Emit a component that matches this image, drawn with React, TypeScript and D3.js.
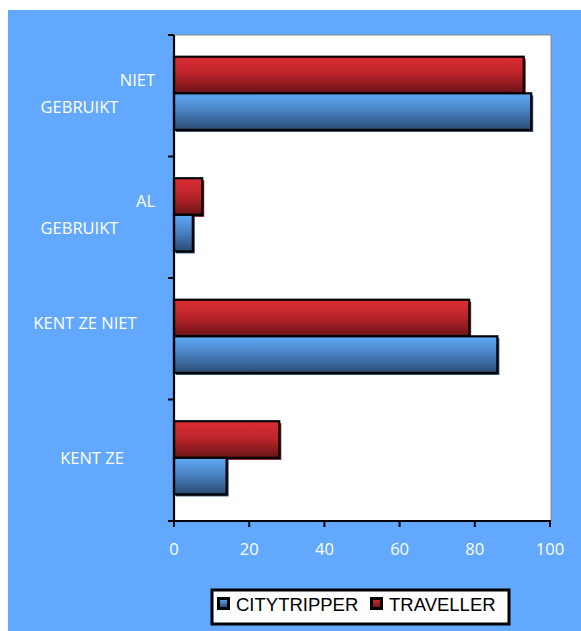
import React from "react";
import * as d3 from "d3";

const categories = ["NIET GEBRUIKT", "AL GEBRUIKT", "KENT ZE NIET", "KENT ZE"];
const categoryLines = [["NIET", "GEBRUIKT"], ["AL", "GEBRUIKT"], ["KENT ZE NIET"], ["KENT ZE"]];
const series = ["TRAVELLER", "CITYTRIPPER"];
const traveller = [93, 7.5, 78.5, 28];
const citytripper = [95, 5, 86, 14];
const xTicks = [0, 20, 40, 60, 80, 100];
const legendItems = ["CITYTRIPPER", "TRAVELLER"];

const W = 581, H = 631;
const plot = { left: 174, right: 550, top: 35, bottom: 521 };

export default function App() {
  const x = d3.scaleLinear().domain([0, 100]).range([plot.left, plot.right]);
  const y0 = d3.scaleBand<string>().domain(categories).range([plot.top, plot.bottom]);
  const y1 = d3.scaleBand<string>().domain(series).range([0, y0.bandwidth()]).paddingOuter(0.66).align(0.45);
  const values: Record<string, number[]> = { TRAVELLER: traveller, CITYTRIPPER: citytripper };
  const fills: Record<string, string> = { TRAVELLER: "url(#gRed)", CITYTRIPPER: "url(#gBlue)" };
  const shadows: Record<string, string> = { TRAVELLER: "#7a1418", CITYTRIPPER: "#2c4d78" };
  const labelFont = "'Open Sans', sans-serif";
  const fs = 16.5;
  const yTickPos = [...categories.map((c) => y0(c)!), plot.bottom];

  return (
    <svg width={W} height={H} style={{ position: "absolute", left: 0, top: 0 }}>
      <defs>
        <linearGradient id="gRed" x1="0" y1="0" x2="0" y2="1">
          <stop offset="0" stopColor="#dc2e34" />
          <stop offset="0.45" stopColor="#bd252b" />
          <stop offset="1" stopColor="#6a1317" />
        </linearGradient>
        <linearGradient id="gBlue" x1="0" y1="0" x2="0" y2="1">
          <stop offset="0" stopColor="#5fa9f6" />
          <stop offset="0.45" stopColor="#4a84c6" />
          <stop offset="1" stopColor="#2a4a72" />
        </linearGradient>
        <linearGradient id="lRed" x1="0" y1="0" x2="0" y2="1">
          <stop offset="0" stopColor="#c8262c" />
          <stop offset="1" stopColor="#7a1418" />
        </linearGradient>
        <linearGradient id="lBlue" x1="0" y1="0" x2="0" y2="1">
          <stop offset="0" stopColor="#5a9ee6" />
          <stop offset="1" stopColor="#2c4d78" />
        </linearGradient>
      </defs>
      <rect x={8} y={10} width={W - 8} height={H - 10} fill="#62a8fe" />
      <rect x={plot.left} y={plot.top} width={plot.right + 1 - plot.left} height={plot.bottom - plot.top} fill="#ffffff" stroke="#8a8a8a" strokeWidth={1} />

      {categories.map((c, i) =>
        series.map((s) => {
          const v = values[s][i];
          const by = y0(c)! + y1(s)!;
          const bh = y1.bandwidth();
          const bw = x(v) - x(0);
          return (
            <g key={c + s}>
              <rect x={x(0) + 2} y={by + 2} width={bw} height={bh} fill={shadows[s]} />
              <rect x={x(0)} y={by} width={bw} height={bh} fill={fills[s]} stroke="#000" strokeWidth={2.2} />
            </g>
          );
        })
      )}

      <line x1={plot.left} x2={plot.left} y1={plot.top} y2={plot.bottom} stroke="#000" strokeWidth={2.2} />
      {yTickPos.map((p, i) => (
        <line key={i} x1={plot.left - 6} x2={plot.left} y1={p} y2={p} stroke="#000" strokeWidth={2} />
      ))}
      <line x1={plot.left - 6} x2={plot.right + 1} y1={plot.bottom} y2={plot.bottom} stroke="#000" strokeWidth={2.2} />
      {xTicks.map((t) => (
        <g key={t}>
          <line x1={x(t)} x2={x(t)} y1={plot.bottom - 1} y2={plot.bottom + 6} stroke="#000" strokeWidth={2} />
          <text x={x(t)} y={555} textAnchor="middle" fill="#fff" fontSize={16.5} fontFamily={labelFont}>{t}</text>
        </g>
      ))}

      {categories.map((c, i) => {
        const cy = y0(c)! + y0.bandwidth() / 2;
        const lines = categoryLines[i];
        if (lines.length === 2) {
          return (
            <g key={c}>
              <text x={155} y={cy - 10} textAnchor="end" fill="#fff" fontSize={fs} fontFamily={labelFont}>{lines[0]}</text>
              <text x={79.5} y={cy + 17} textAnchor="middle" fill="#fff" fontSize={fs} fontFamily={labelFont}>{lines[1]}</text>
            </g>
          );
        }
        const dy = i === 2 ? -10 : 4;
        const cx = i === 2 ? 85 : 92;
        return (
          <text key={c} x={cx} y={cy + dy} textAnchor="middle" fill="#fff" fontSize={fs} fontFamily={labelFont}>{lines[0]}</text>
        );
      })}

      <rect x={212} y={590} width={297} height={34} fill="#fff" stroke="#000" strokeWidth={3} />
      {legendItems.map((s, i) => {
        const lx = i === 0 ? 217 : 370;
        return (
          <g key={s}>
            <rect x={lx} y={597} width={13} height={13} fill="#000" />
            <rect x={lx + 3} y={600} width={7} height={7} fill={s === "CITYTRIPPER" ? "url(#lBlue)" : "url(#lRed)"} />
            <text x={lx + 19} y={611} fill="#000" fontSize={18.5} fontFamily="'Liberation Sans', Arial, sans-serif">{s}</text>
          </g>
        );
      })}
    </svg>
  );
}
